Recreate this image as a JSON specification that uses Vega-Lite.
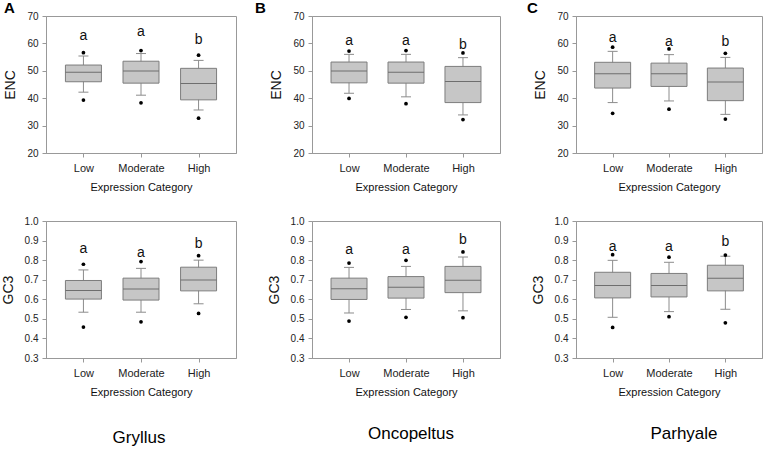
{
"$schema": "https://vega.github.io/schema/vega-lite/v6.json",
"background": "white",
"padding": {"left": 0, "top": 0, "right": 0, "bottom": 0},
"datasets": {"stats": [
{"species":"Gryllus","metric":"ENC","category":"Low","wlo":42.2,"q1":46.0,"median":49.5,"q3":52.1,"whi":55.4,"p05":39.3,"p95":56.6,"letter":"a","letter_y":61.1},
{"species":"Gryllus","metric":"ENC","category":"Moderate","wlo":41.1,"q1":45.5,"median":49.9,"q3":53.5,"whi":56.3,"p05":38.3,"p95":57.4,"letter":"a","letter_y":62.7},
{"species":"Gryllus","metric":"ENC","category":"High","wlo":35.7,"q1":39.4,"median":45.4,"q3":50.9,"whi":53.8,"p05":32.7,"p95":55.7,"letter":"b","letter_y":59.9},
{"species":"Oncopeltus","metric":"ENC","category":"Low","wlo":41.8,"q1":45.6,"median":49.9,"q3":53.2,"whi":56.0,"p05":39.9,"p95":57.2,"letter":"a","letter_y":59.4},
{"species":"Oncopeltus","metric":"ENC","category":"Moderate","wlo":40.5,"q1":45.5,"median":49.5,"q3":53.2,"whi":56.0,"p05":38.0,"p95":57.4,"letter":"a","letter_y":59.4},
{"species":"Oncopeltus","metric":"ENC","category":"High","wlo":33.9,"q1":38.4,"median":46.1,"q3":51.6,"whi":54.8,"p05":32.2,"p95":56.5,"letter":"b","letter_y":58.0},
{"species":"Parhyale","metric":"ENC","category":"Low","wlo":38.4,"q1":43.7,"median":48.9,"q3":53.1,"whi":57.1,"p05":34.5,"p95":58.6,"letter":"a","letter_y":60.4},
{"species":"Parhyale","metric":"ENC","category":"Moderate","wlo":39.0,"q1":44.3,"median":48.9,"q3":52.8,"whi":55.9,"p05":36.0,"p95":58.0,"letter":"a","letter_y":59.2},
{"species":"Parhyale","metric":"ENC","category":"High","wlo":34.1,"q1":39.1,"median":45.9,"q3":51.0,"whi":54.9,"p05":32.4,"p95":56.4,"letter":"b","letter_y":59.2},
{"species":"Gryllus","metric":"GC3","category":"Low","wlo":0.534,"q1":0.601,"median":0.645,"q3":0.696,"whi":0.750,"p05":0.458,"p95":0.779,"letter":"a","letter_y":0.835},
{"species":"Gryllus","metric":"GC3","category":"Moderate","wlo":0.534,"q1":0.596,"median":0.653,"q3":0.708,"whi":0.758,"p05":0.485,"p95":0.793,"letter":"a","letter_y":0.818},
{"species":"Gryllus","metric":"GC3","category":"High","wlo":0.577,"q1":0.643,"median":0.698,"q3":0.764,"whi":0.800,"p05":0.528,"p95":0.823,"letter":"b","letter_y":0.861},
{"species":"Oncopeltus","metric":"GC3","category":"Low","wlo":0.530,"q1":0.599,"median":0.654,"q3":0.708,"whi":0.763,"p05":0.489,"p95":0.785,"letter":"a","letter_y":0.833},
{"species":"Oncopeltus","metric":"GC3","category":"Moderate","wlo":0.548,"q1":0.606,"median":0.661,"q3":0.716,"whi":0.768,"p05":0.508,"p95":0.799,"letter":"a","letter_y":0.833},
{"species":"Oncopeltus","metric":"GC3","category":"High","wlo":0.541,"q1":0.634,"median":0.697,"q3":0.768,"whi":0.816,"p05":0.506,"p95":0.842,"letter":"b","letter_y":0.880},
{"species":"Parhyale","metric":"GC3","category":"Low","wlo":0.508,"q1":0.607,"median":0.671,"q3":0.738,"whi":0.799,"p05":0.456,"p95":0.828,"letter":"a","letter_y":0.849},
{"species":"Parhyale","metric":"GC3","category":"Moderate","wlo":0.537,"q1":0.612,"median":0.671,"q3":0.732,"whi":0.789,"p05":0.511,"p95":0.815,"letter":"a","letter_y":0.849},
{"species":"Parhyale","metric":"GC3","category":"High","wlo":0.549,"q1":0.643,"median":0.707,"q3":0.774,"whi":0.820,"p05":0.480,"p95":0.826,"letter":"b","letter_y":0.871}
]},
"vconcat": [
{"hconcat": [
 {"width": 190, "height": 137,
  "title": {"text": "A", "anchor": "start", "frame": "group", "baseline": "alphabetic", "offset": -14, "dy": 3, "dx": -42, "fontSize": 15, "fontWeight": "bold", "color": "#000"},
  "data": {"name": "stats"},
  "transform": [{"filter": "datum.species == 'Gryllus' && datum.metric == 'ENC'"}],
  "encoding": {"x": {"field": "category", "type": "nominal", "sort": ["Low","Moderate","High"], "scale": {"type": "point", "padding": 0.65}, "title": "Expression Category"}},
  "layer": [
   {"mark": {"type": "rule", "color": "#8c8c8c"}, "encoding": {"y": {"field": "wlo", "type": "quantitative", "scale": {"domain": [20,70]}, "axis": {"values": [20,30,40,50,60,70], "labelOverlap": false}, "title": "ENC"}, "y2": {"field": "whi"}}},
   {"mark": {"type": "bar", "width": 36, "fill": "#c6c6c6", "stroke": "#7d7d7d", "strokeWidth": 1}, "encoding": {"y": {"field": "q1", "type": "quantitative", "scale": {"domain": [20,70]}, "axis": {"values": [20,30,40,50,60,70], "labelOverlap": false}, "title": "ENC"}, "y2": {"field": "q3"}}},
   {"mark": {"type": "tick", "size": 36, "thickness": 1, "color": "#6e6e6e", "opacity": 1}, "encoding": {"y": {"field": "median", "type": "quantitative", "scale": {"domain": [20,70]}, "axis": {"values": [20,30,40,50,60,70], "labelOverlap": false}, "title": "ENC"}}},
   {"mark": {"type": "tick", "size": 10, "thickness": 1, "color": "#8c8c8c", "opacity": 1}, "encoding": {"y": {"field": "wlo", "type": "quantitative", "scale": {"domain": [20,70]}, "axis": {"values": [20,30,40,50,60,70], "labelOverlap": false}, "title": "ENC"}}},
   {"mark": {"type": "tick", "size": 10, "thickness": 1, "color": "#8c8c8c", "opacity": 1}, "encoding": {"y": {"field": "whi", "type": "quantitative", "scale": {"domain": [20,70]}, "axis": {"values": [20,30,40,50,60,70], "labelOverlap": false}, "title": "ENC"}}},
   {"mark": {"type": "circle", "size": 14, "color": "#000", "opacity": 1}, "encoding": {"y": {"field": "p05", "type": "quantitative", "scale": {"domain": [20,70]}, "axis": {"values": [20,30,40,50,60,70], "labelOverlap": false}, "title": "ENC"}}},
   {"mark": {"type": "circle", "size": 14, "color": "#000", "opacity": 1}, "encoding": {"y": {"field": "p95", "type": "quantitative", "scale": {"domain": [20,70]}, "axis": {"values": [20,30,40,50,60,70], "labelOverlap": false}, "title": "ENC"}}},
   {"mark": {"type": "text", "fontSize": 14, "baseline": "alphabetic", "color": "#111"}, "encoding": {"y": {"field": "letter_y", "type": "quantitative", "scale": {"domain": [20,70]}, "axis": {"values": [20,30,40,50,60,70], "labelOverlap": false}, "title": "ENC"}, "text": {"field": "letter"}}}
  ]},
 {"width": 188, "height": 137,
  "title": {"text": "B", "anchor": "start", "frame": "group", "baseline": "alphabetic", "offset": -14, "dy": 3, "dx": -57, "fontSize": 15, "fontWeight": "bold", "color": "#000"},
  "data": {"name": "stats"},
  "transform": [{"filter": "datum.species == 'Oncopeltus' && datum.metric == 'ENC'"}],
  "encoding": {"x": {"field": "category", "type": "nominal", "sort": ["Low","Moderate","High"], "scale": {"type": "point", "padding": 0.65}, "title": "Expression Category"}},
  "layer": [
   {"mark": {"type": "rule", "color": "#8c8c8c"}, "encoding": {"y": {"field": "wlo", "type": "quantitative", "scale": {"domain": [20,70]}, "axis": {"values": [20,30,40,50,60,70], "labelOverlap": false}, "title": "ENC"}, "y2": {"field": "whi"}}},
   {"mark": {"type": "bar", "width": 36, "fill": "#c6c6c6", "stroke": "#7d7d7d", "strokeWidth": 1}, "encoding": {"y": {"field": "q1", "type": "quantitative", "scale": {"domain": [20,70]}, "axis": {"values": [20,30,40,50,60,70], "labelOverlap": false}, "title": "ENC"}, "y2": {"field": "q3"}}},
   {"mark": {"type": "tick", "size": 36, "thickness": 1, "color": "#6e6e6e", "opacity": 1}, "encoding": {"y": {"field": "median", "type": "quantitative", "scale": {"domain": [20,70]}, "axis": {"values": [20,30,40,50,60,70], "labelOverlap": false}, "title": "ENC"}}},
   {"mark": {"type": "tick", "size": 10, "thickness": 1, "color": "#8c8c8c", "opacity": 1}, "encoding": {"y": {"field": "wlo", "type": "quantitative", "scale": {"domain": [20,70]}, "axis": {"values": [20,30,40,50,60,70], "labelOverlap": false}, "title": "ENC"}}},
   {"mark": {"type": "tick", "size": 10, "thickness": 1, "color": "#8c8c8c", "opacity": 1}, "encoding": {"y": {"field": "whi", "type": "quantitative", "scale": {"domain": [20,70]}, "axis": {"values": [20,30,40,50,60,70], "labelOverlap": false}, "title": "ENC"}}},
   {"mark": {"type": "circle", "size": 14, "color": "#000", "opacity": 1}, "encoding": {"y": {"field": "p05", "type": "quantitative", "scale": {"domain": [20,70]}, "axis": {"values": [20,30,40,50,60,70], "labelOverlap": false}, "title": "ENC"}}},
   {"mark": {"type": "circle", "size": 14, "color": "#000", "opacity": 1}, "encoding": {"y": {"field": "p95", "type": "quantitative", "scale": {"domain": [20,70]}, "axis": {"values": [20,30,40,50,60,70], "labelOverlap": false}, "title": "ENC"}}},
   {"mark": {"type": "text", "fontSize": 14, "baseline": "alphabetic", "color": "#111"}, "encoding": {"y": {"field": "letter_y", "type": "quantitative", "scale": {"domain": [20,70]}, "axis": {"values": [20,30,40,50,60,70], "labelOverlap": false}, "title": "ENC"}, "text": {"field": "letter"}}}
  ]},
 {"width": 186, "height": 137,
  "title": {"text": "C", "anchor": "start", "frame": "group", "baseline": "alphabetic", "offset": -14, "dy": 3, "dx": -49, "fontSize": 15, "fontWeight": "bold", "color": "#000"},
  "data": {"name": "stats"},
  "transform": [{"filter": "datum.species == 'Parhyale' && datum.metric == 'ENC'"}],
  "encoding": {"x": {"field": "category", "type": "nominal", "sort": ["Low","Moderate","High"], "scale": {"type": "point", "padding": 0.65}, "title": "Expression Category"}},
  "layer": [
   {"mark": {"type": "rule", "color": "#8c8c8c"}, "encoding": {"y": {"field": "wlo", "type": "quantitative", "scale": {"domain": [20,70]}, "axis": {"values": [20,30,40,50,60,70], "labelOverlap": false}, "title": "ENC"}, "y2": {"field": "whi"}}},
   {"mark": {"type": "bar", "width": 36, "fill": "#c6c6c6", "stroke": "#7d7d7d", "strokeWidth": 1}, "encoding": {"y": {"field": "q1", "type": "quantitative", "scale": {"domain": [20,70]}, "axis": {"values": [20,30,40,50,60,70], "labelOverlap": false}, "title": "ENC"}, "y2": {"field": "q3"}}},
   {"mark": {"type": "tick", "size": 36, "thickness": 1, "color": "#6e6e6e", "opacity": 1}, "encoding": {"y": {"field": "median", "type": "quantitative", "scale": {"domain": [20,70]}, "axis": {"values": [20,30,40,50,60,70], "labelOverlap": false}, "title": "ENC"}}},
   {"mark": {"type": "tick", "size": 10, "thickness": 1, "color": "#8c8c8c", "opacity": 1}, "encoding": {"y": {"field": "wlo", "type": "quantitative", "scale": {"domain": [20,70]}, "axis": {"values": [20,30,40,50,60,70], "labelOverlap": false}, "title": "ENC"}}},
   {"mark": {"type": "tick", "size": 10, "thickness": 1, "color": "#8c8c8c", "opacity": 1}, "encoding": {"y": {"field": "whi", "type": "quantitative", "scale": {"domain": [20,70]}, "axis": {"values": [20,30,40,50,60,70], "labelOverlap": false}, "title": "ENC"}}},
   {"mark": {"type": "circle", "size": 14, "color": "#000", "opacity": 1}, "encoding": {"y": {"field": "p05", "type": "quantitative", "scale": {"domain": [20,70]}, "axis": {"values": [20,30,40,50,60,70], "labelOverlap": false}, "title": "ENC"}}},
   {"mark": {"type": "circle", "size": 14, "color": "#000", "opacity": 1}, "encoding": {"y": {"field": "p95", "type": "quantitative", "scale": {"domain": [20,70]}, "axis": {"values": [20,30,40,50,60,70], "labelOverlap": false}, "title": "ENC"}}},
   {"mark": {"type": "text", "fontSize": 14, "baseline": "alphabetic", "color": "#111"}, "encoding": {"y": {"field": "letter_y", "type": "quantitative", "scale": {"domain": [20,70]}, "axis": {"values": [20,30,40,50,60,70], "labelOverlap": false}, "title": "ENC"}, "text": {"field": "letter"}}}
  ]}
 ], "spacing": 76, "bounds": "flush"},
{"hconcat": [
 {"width": 190, "height": 137,
  "title": {"text": "Gryllus", "orient": "bottom", "anchor": "middle", "frame": "group", "fontSize": 17, "fontWeight": "normal", "offset": 33, "dx": -2, "color": "#000"},
  "data": {"name": "stats"},
  "transform": [{"filter": "datum.species == 'Gryllus' && datum.metric == 'GC3'"}],
  "encoding": {"x": {"field": "category", "type": "nominal", "sort": ["Low","Moderate","High"], "scale": {"type": "point", "padding": 0.65}, "title": "Expression Category"}},
  "layer": [
   {"mark": {"type": "rule", "color": "#8c8c8c"}, "encoding": {"y": {"field": "wlo", "type": "quantitative", "scale": {"domain": [0.3,1.0]}, "axis": {"values": [0.3,0.4,0.5,0.6,0.7,0.8,0.9,1.0], "format": ".1f", "labelOverlap": false}, "title": "GC3"}, "y2": {"field": "whi"}}},
   {"mark": {"type": "bar", "width": 36, "fill": "#c6c6c6", "stroke": "#7d7d7d", "strokeWidth": 1}, "encoding": {"y": {"field": "q1", "type": "quantitative", "scale": {"domain": [0.3,1.0]}, "axis": {"values": [0.3,0.4,0.5,0.6,0.7,0.8,0.9,1.0], "format": ".1f", "labelOverlap": false}, "title": "GC3"}, "y2": {"field": "q3"}}},
   {"mark": {"type": "tick", "size": 36, "thickness": 1, "color": "#6e6e6e", "opacity": 1}, "encoding": {"y": {"field": "median", "type": "quantitative", "scale": {"domain": [0.3,1.0]}, "axis": {"values": [0.3,0.4,0.5,0.6,0.7,0.8,0.9,1.0], "format": ".1f", "labelOverlap": false}, "title": "GC3"}}},
   {"mark": {"type": "tick", "size": 10, "thickness": 1, "color": "#8c8c8c", "opacity": 1}, "encoding": {"y": {"field": "wlo", "type": "quantitative", "scale": {"domain": [0.3,1.0]}, "axis": {"values": [0.3,0.4,0.5,0.6,0.7,0.8,0.9,1.0], "format": ".1f", "labelOverlap": false}, "title": "GC3"}}},
   {"mark": {"type": "tick", "size": 10, "thickness": 1, "color": "#8c8c8c", "opacity": 1}, "encoding": {"y": {"field": "whi", "type": "quantitative", "scale": {"domain": [0.3,1.0]}, "axis": {"values": [0.3,0.4,0.5,0.6,0.7,0.8,0.9,1.0], "format": ".1f", "labelOverlap": false}, "title": "GC3"}}},
   {"mark": {"type": "circle", "size": 14, "color": "#000", "opacity": 1}, "encoding": {"y": {"field": "p05", "type": "quantitative", "scale": {"domain": [0.3,1.0]}, "axis": {"values": [0.3,0.4,0.5,0.6,0.7,0.8,0.9,1.0], "format": ".1f", "labelOverlap": false}, "title": "GC3"}}},
   {"mark": {"type": "circle", "size": 14, "color": "#000", "opacity": 1}, "encoding": {"y": {"field": "p95", "type": "quantitative", "scale": {"domain": [0.3,1.0]}, "axis": {"values": [0.3,0.4,0.5,0.6,0.7,0.8,0.9,1.0], "format": ".1f", "labelOverlap": false}, "title": "GC3"}}},
   {"mark": {"type": "text", "fontSize": 14, "baseline": "alphabetic", "color": "#111"}, "encoding": {"y": {"field": "letter_y", "type": "quantitative", "scale": {"domain": [0.3,1.0]}, "axis": {"values": [0.3,0.4,0.5,0.6,0.7,0.8,0.9,1.0], "format": ".1f", "labelOverlap": false}, "title": "GC3"}, "text": {"field": "letter"}}}
  ]},
 {"width": 188, "height": 137,
  "title": {"text": "Oncopeltus", "orient": "bottom", "anchor": "middle", "frame": "group", "fontSize": 17, "fontWeight": "normal", "offset": 29, "dx": 5, "color": "#000"},
  "data": {"name": "stats"},
  "transform": [{"filter": "datum.species == 'Oncopeltus' && datum.metric == 'GC3'"}],
  "encoding": {"x": {"field": "category", "type": "nominal", "sort": ["Low","Moderate","High"], "scale": {"type": "point", "padding": 0.65}, "title": "Expression Category"}},
  "layer": [
   {"mark": {"type": "rule", "color": "#8c8c8c"}, "encoding": {"y": {"field": "wlo", "type": "quantitative", "scale": {"domain": [0.3,1.0]}, "axis": {"values": [0.3,0.4,0.5,0.6,0.7,0.8,0.9,1.0], "format": ".1f", "labelOverlap": false}, "title": "GC3"}, "y2": {"field": "whi"}}},
   {"mark": {"type": "bar", "width": 36, "fill": "#c6c6c6", "stroke": "#7d7d7d", "strokeWidth": 1}, "encoding": {"y": {"field": "q1", "type": "quantitative", "scale": {"domain": [0.3,1.0]}, "axis": {"values": [0.3,0.4,0.5,0.6,0.7,0.8,0.9,1.0], "format": ".1f", "labelOverlap": false}, "title": "GC3"}, "y2": {"field": "q3"}}},
   {"mark": {"type": "tick", "size": 36, "thickness": 1, "color": "#6e6e6e", "opacity": 1}, "encoding": {"y": {"field": "median", "type": "quantitative", "scale": {"domain": [0.3,1.0]}, "axis": {"values": [0.3,0.4,0.5,0.6,0.7,0.8,0.9,1.0], "format": ".1f", "labelOverlap": false}, "title": "GC3"}}},
   {"mark": {"type": "tick", "size": 10, "thickness": 1, "color": "#8c8c8c", "opacity": 1}, "encoding": {"y": {"field": "wlo", "type": "quantitative", "scale": {"domain": [0.3,1.0]}, "axis": {"values": [0.3,0.4,0.5,0.6,0.7,0.8,0.9,1.0], "format": ".1f", "labelOverlap": false}, "title": "GC3"}}},
   {"mark": {"type": "tick", "size": 10, "thickness": 1, "color": "#8c8c8c", "opacity": 1}, "encoding": {"y": {"field": "whi", "type": "quantitative", "scale": {"domain": [0.3,1.0]}, "axis": {"values": [0.3,0.4,0.5,0.6,0.7,0.8,0.9,1.0], "format": ".1f", "labelOverlap": false}, "title": "GC3"}}},
   {"mark": {"type": "circle", "size": 14, "color": "#000", "opacity": 1}, "encoding": {"y": {"field": "p05", "type": "quantitative", "scale": {"domain": [0.3,1.0]}, "axis": {"values": [0.3,0.4,0.5,0.6,0.7,0.8,0.9,1.0], "format": ".1f", "labelOverlap": false}, "title": "GC3"}}},
   {"mark": {"type": "circle", "size": 14, "color": "#000", "opacity": 1}, "encoding": {"y": {"field": "p95", "type": "quantitative", "scale": {"domain": [0.3,1.0]}, "axis": {"values": [0.3,0.4,0.5,0.6,0.7,0.8,0.9,1.0], "format": ".1f", "labelOverlap": false}, "title": "GC3"}}},
   {"mark": {"type": "text", "fontSize": 14, "baseline": "alphabetic", "color": "#111"}, "encoding": {"y": {"field": "letter_y", "type": "quantitative", "scale": {"domain": [0.3,1.0]}, "axis": {"values": [0.3,0.4,0.5,0.6,0.7,0.8,0.9,1.0], "format": ".1f", "labelOverlap": false}, "title": "GC3"}, "text": {"field": "letter"}}}
  ]},
 {"width": 186, "height": 137,
  "title": {"text": "Parhyale", "orient": "bottom", "anchor": "middle", "frame": "group", "fontSize": 17, "fontWeight": "normal", "offset": 29, "dx": 15, "color": "#000"},
  "data": {"name": "stats"},
  "transform": [{"filter": "datum.species == 'Parhyale' && datum.metric == 'GC3'"}],
  "encoding": {"x": {"field": "category", "type": "nominal", "sort": ["Low","Moderate","High"], "scale": {"type": "point", "padding": 0.65}, "title": "Expression Category"}},
  "layer": [
   {"mark": {"type": "rule", "color": "#8c8c8c"}, "encoding": {"y": {"field": "wlo", "type": "quantitative", "scale": {"domain": [0.3,1.0]}, "axis": {"values": [0.3,0.4,0.5,0.6,0.7,0.8,0.9,1.0], "format": ".1f", "labelOverlap": false}, "title": "GC3"}, "y2": {"field": "whi"}}},
   {"mark": {"type": "bar", "width": 36, "fill": "#c6c6c6", "stroke": "#7d7d7d", "strokeWidth": 1}, "encoding": {"y": {"field": "q1", "type": "quantitative", "scale": {"domain": [0.3,1.0]}, "axis": {"values": [0.3,0.4,0.5,0.6,0.7,0.8,0.9,1.0], "format": ".1f", "labelOverlap": false}, "title": "GC3"}, "y2": {"field": "q3"}}},
   {"mark": {"type": "tick", "size": 36, "thickness": 1, "color": "#6e6e6e", "opacity": 1}, "encoding": {"y": {"field": "median", "type": "quantitative", "scale": {"domain": [0.3,1.0]}, "axis": {"values": [0.3,0.4,0.5,0.6,0.7,0.8,0.9,1.0], "format": ".1f", "labelOverlap": false}, "title": "GC3"}}},
   {"mark": {"type": "tick", "size": 10, "thickness": 1, "color": "#8c8c8c", "opacity": 1}, "encoding": {"y": {"field": "wlo", "type": "quantitative", "scale": {"domain": [0.3,1.0]}, "axis": {"values": [0.3,0.4,0.5,0.6,0.7,0.8,0.9,1.0], "format": ".1f", "labelOverlap": false}, "title": "GC3"}}},
   {"mark": {"type": "tick", "size": 10, "thickness": 1, "color": "#8c8c8c", "opacity": 1}, "encoding": {"y": {"field": "whi", "type": "quantitative", "scale": {"domain": [0.3,1.0]}, "axis": {"values": [0.3,0.4,0.5,0.6,0.7,0.8,0.9,1.0], "format": ".1f", "labelOverlap": false}, "title": "GC3"}}},
   {"mark": {"type": "circle", "size": 14, "color": "#000", "opacity": 1}, "encoding": {"y": {"field": "p05", "type": "quantitative", "scale": {"domain": [0.3,1.0]}, "axis": {"values": [0.3,0.4,0.5,0.6,0.7,0.8,0.9,1.0], "format": ".1f", "labelOverlap": false}, "title": "GC3"}}},
   {"mark": {"type": "circle", "size": 14, "color": "#000", "opacity": 1}, "encoding": {"y": {"field": "p95", "type": "quantitative", "scale": {"domain": [0.3,1.0]}, "axis": {"values": [0.3,0.4,0.5,0.6,0.7,0.8,0.9,1.0], "format": ".1f", "labelOverlap": false}, "title": "GC3"}}},
   {"mark": {"type": "text", "fontSize": 14, "baseline": "alphabetic", "color": "#111"}, "encoding": {"y": {"field": "letter_y", "type": "quantitative", "scale": {"domain": [0.3,1.0]}, "axis": {"values": [0.3,0.4,0.5,0.6,0.7,0.8,0.9,1.0], "format": ".1f", "labelOverlap": false}, "title": "GC3"}, "text": {"field": "letter"}}}
  ]}
 ], "spacing": 76, "bounds": "flush"}
],
"spacing": 22,
"config": {
 "font": "Liberation Sans",
 "view": {"stroke": "#999999", "strokeWidth": 1},
 "axis": {"grid": false, "domainColor": "#999999", "tickColor": "#999999", "tickSize": 4, "labelFontSize": 10, "labelColor": "#222222", "titleColor": "#111111", "titleFontWeight": "normal", "labelFlush": false, "labelOverlap": false, "labelFont": "Liberation Sans", "titleFont": "Liberation Sans"},
 "axisY": {"titleFontSize": 14, "labelPadding": 4, "titlePadding": 9},
 "axisX": {"labelAngle": 0, "labelFontSize": 11, "titleFontSize": 11, "labelPadding": 5, "titlePadding": 8},
 "title": {"font": "Liberation Sans"}
}
}
